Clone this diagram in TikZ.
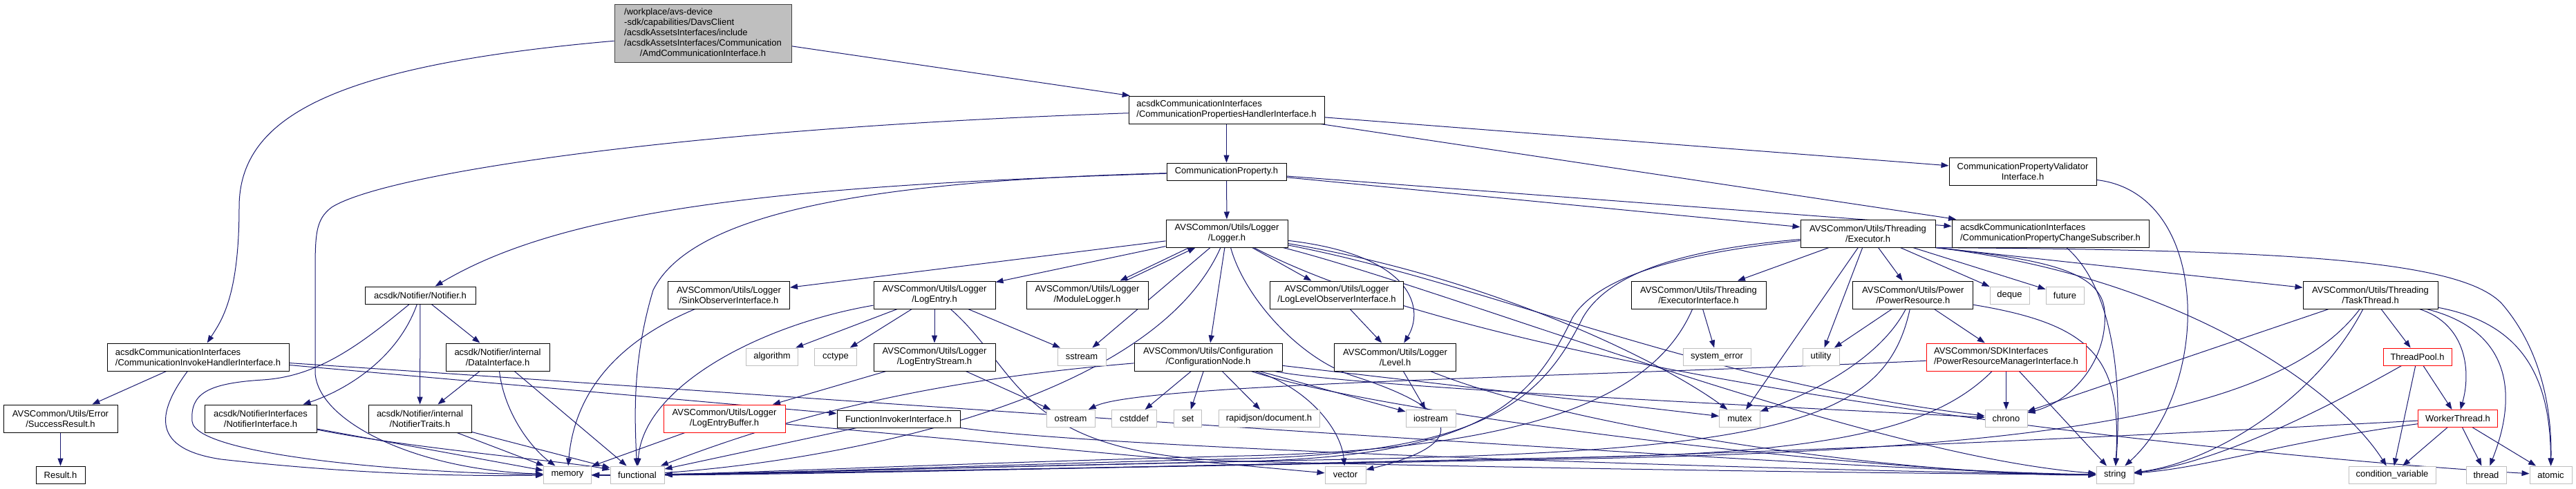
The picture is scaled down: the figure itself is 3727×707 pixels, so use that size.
\documentclass[tikz,border=0pt]{standalone}
\usepackage{fontspec}
\setmainfont{Liberation Sans}
\usetikzlibrary{arrows.meta,backgrounds}
\definecolor{edgec}{HTML}{191970}
\definecolor{extc}{HTML}{BFBFBF}
\definecolor{rootfill}{HTML}{BFBFBF}
\definecolor{rootdraw}{HTML}{404040}
\definecolor{trunc}{HTML}{FF0000}
\tikzset{
  base/.style={rectangle, inner sep=0pt, line width=1pt, fill=white, font=\fontsize{13}{15}\selectfont, align=center, text=black},
  nb/.style={base, draw=black},
  gb/.style={base, draw=extc},
  rb/.style={base, draw=trunc},
  h1/.style={minimum height=25pt},
  h2/.style={minimum height=40pt},
  e/.style={draw=edgec, line width=1pt, -{Triangle[length=11pt,width=8pt]}},
}
\begin{document}
\begin{tikzpicture}[x=1pt,y=-1pt]
\useasboundingbox (0,0) rectangle (3727,707);

% ---------- nodes ----------
\node[base, draw=rootdraw, fill=rootfill, minimum width=256pt, minimum height=84pt] (root) at (1017,48)
  {\begin{tabular}{@{}l@{}}/workplace/avs-device\\-sdk/capabilities/DavsClient\\/acsdkAssetsInterfaces/include\\/acsdkAssetsInterfaces/Communication\\\multicolumn{1}{@{}c@{}}{/AmdCommunicationInterface.h}\end{tabular}};
\node[nb,h2,minimum width=283pt,align=left] (cphi) at (1774.5,159) {acsdkCommunicationInterfaces\\/CommunicationPropertiesHandlerInterface.h};
\node[nb,h1,minimum width=173pt] (cp) at (1774.5,248.5) {CommunicationProperty.h};
\node[nb,h2,minimum width=176pt] (logger) at (1775,338) {AVSCommon/Utils/Logger\\/Logger.h};
\node[nb,h2,minimum width=213pt] (cpvi) at (2926.5,248) {CommunicationPropertyValidator\\Interface.h};
\node[nb,h2,minimum width=195pt] (exec) at (2702.5,338) {AVSCommon/Utils/Threading\\/Executor.h};
\node[nb,h2,minimum width=285pt,align=left] (cpcs) at (2966.5,338) {acsdkCommunicationInterfaces\\/CommunicationPropertyChangeSubscriber.h};
\node[nb,h2,minimum width=263pt,align=left] (cihi) at (286.5,517) {acsdkCommunicationInterfaces\\/CommunicationInvokeHandlerInterface.h};
\node[nb,h1,minimum width=160pt] (notifier) at (608,427.5) {acsdk/Notifier/Notifier.h};
\node[nb,h2,minimum width=165pt] (succ) at (87.5,606) {AVSCommon/Utils/Error\\/SuccessResult.h};
\node[nb,h1,minimum width=71pt] (result) at (87.5,687.5) {Result.h};
\node[nb,h2,minimum width=162pt] (notifint) at (377,606) {acsdk/NotifierInterfaces\\/NotifierInterface.h};
\node[nb,h2,minimum width=149pt] (notiftraits) at (607.5,606) {acsdk/Notifier/internal\\/NotifierTraits.h};
\node[nb,h2,minimum width=150pt] (dataint) at (720,517) {acsdk/Notifier/internal\\/DataInterface.h};
\node[gb,h1,minimum width=69pt] (memory) at (821,687.5) {memory};
\node[gb,h1,minimum width=78pt] (functional) at (922,687.5) {functional};
\node[nb,h2,minimum width=176pt] (sink) at (1054.5,427) {AVSCommon/Utils/Logger\\/SinkObserverInterface.h};
\node[gb,h1,minimum width=75pt] (algorithm) at (1117,516.5) {algorithm};
\node[gb,h1,minimum width=61pt] (cctype) at (1209,516.5) {cctype};
\node[rb,h2,minimum width=176pt] (leb) at (1048,606) {AVSCommon/Utils/Logger\\/LogEntryBuffer.h};
\node[nb,h1,minimum width=178pt] (funcinv) at (1300,606.5) {FunctionInvokerInterface.h};
\node[nb,h2,minimum width=176pt] (logentry) at (1352,427) {AVSCommon/Utils/Logger\\/LogEntry.h};
\node[nb,h2,minimum width=176pt] (modlog) at (1573,427) {AVSCommon/Utils/Logger\\/ModuleLogger.h};
\node[nb,h2,minimum width=193pt] (loglevobs) at (1934,427) {AVSCommon/Utils/Logger\\/LogLevelObserverInterface.h};
\node[nb,h2,minimum width=176pt] (les) at (1352,517) {AVSCommon/Utils/Logger\\/LogEntryStream.h};
\node[gb,h1,minimum width=70pt] (sstream) at (1565,516.5) {sstream};
\node[nb,h2,minimum width=214pt] (confnode) at (1748,517) {AVSCommon/Utils/Configuration\\/ConfigurationNode.h};
\node[gb,h1,minimum width=70pt] (ostream) at (1549,606) {ostream};
\node[gb,h1,minimum width=65pt] (cstddef) at (1641,606) {cstddef};
\node[gb,h1,minimum width=40pt] (setn) at (1718.5,606) {set};
\node[gb,h1,minimum width=146pt] (rapid) at (1836,606) {rapidjson/document.h};
\node[nb,h2,minimum width=176pt] (level) at (2018.5,517) {AVSCommon/Utils/Logger\\/Level.h};
\node[gb,h1,minimum width=72pt] (iostream) at (2070,606) {iostream};
\node[gb,h1,minimum width=59pt] (vector) at (1946.5,687.5) {vector};
\node[nb,h2,minimum width=195pt] (execint) at (2457.5,427) {AVSCommon/Utils/Threading\\/ExecutorInterface.h};
\node[gb,h1,minimum width=98pt] (syserr) at (2484,516.5) {system\_error};
\node[gb,h1,minimum width=59pt] (mutex) at (2517,606) {mutex};
\node[gb,h1,minimum width=53pt] (utility) at (2634.5,516.5) {utility};
\node[nb,h2,minimum width=174pt] (powres) at (2767.75,427) {AVSCommon/Utils/Power\\/PowerResource.h};
\node[gb,h1,minimum width=57pt] (deque) at (2907.5,427.5) {deque};
\node[gb,h1,minimum width=55pt] (future) at (2987.5,427.5) {future};
\node[rb,h2,minimum width=231pt,align=left] (prmi) at (2902.5,517) {AVSCommon/SDKInterfaces\\/PowerResourceManagerInterface.h};
\node[gb,h1,minimum width=61pt] (chrono) at (2902.5,606) {chrono};
\node[gb,h1,minimum width=54pt] (string) at (3060,687.5) {string};
\node[nb,h2,minimum width=195pt] (taskthread) at (3429.5,427) {AVSCommon/Utils/Threading\\/TaskThread.h};
\node[rb,h1,minimum width=99pt] (threadpool) at (3497.5,516.5) {ThreadPool.h};
\node[rb,h1,minimum width=115pt] (workerthread) at (3556,606) {WorkerThread.h};
\node[gb,h1,minimum width=126pt] (condvar) at (3461,687.5) {condition\_variable};
\node[gb,h1,minimum width=58pt] (thread) at (3597,687.5) {thread};
\node[gb,h1,minimum width=61pt] (atomic) at (3690.5,687.5) {atomic};

% ---------- edges (behind the nodes) ----------
\begin{pgfonlayer}{background}
\fill[white] (0,0) rectangle (3727,707);
% root
\draw[e] (root) -- (cphi);
\draw[e] (root) .. controls (480,95) and (346,170) .. (346,300) .. controls (346,430) and (320,465) .. (cihi);
% CPHI
\draw[e] (cphi) -- (cp);
\draw[e] (cphi) -- (cpvi);
\draw[e] (cphi) -- (cpcs);
\draw[e] (cphi) .. controls (1000,185) and (560,250) .. (480,300) .. controls (456,318) and (456,340) .. (456,400) -- (456,540) .. controls (460,610) and (600,680) .. (memory);
% CommunicationProperty
\draw[e] (cp) -- (logger);
\draw[e] (cp) .. controls (1150,268) and (820,300) .. (notifier);
\draw[e] (cp) .. controls (1250,262) and (1000,310) .. (945,420) .. controls (915,520) and (918,600) .. (functional);
\draw[e] (cp) -- (exec);
\draw[e] (cp) -- (cpcs);
% Logger
\draw[e] (logger) -- (sink);
\draw[e] (logger) -- (logentry);
\draw[e] ([xshift=34pt]logger.south west) -- ([xshift=-41pt]modlog.north east);
\draw[e] ([xshift=-33pt]modlog.north east) -- ([xshift=43pt]logger.south west);
\draw[e] (logger) -- (sstream);
\draw[e] (logger) -- (confnode);
\draw[e] (logger) -- (loglevobs);
\draw[e] (logger) .. controls (2050,370) and (2060,450) .. (level);
\draw[e] (logger) .. controls (1800,430) and (1880,520) .. (1960,545) .. controls (2100,590) and (2140,640) .. (vector);
\draw[e] (logger) .. controls (2150,400) and (2400,520) .. (mutex);
\draw[e] (logger) .. controls (2150,410) and (2450,550) .. (chrono);
\draw[e] (logger) .. controls (2100,420) and (2700,660) .. (string);
\draw[e] (logger) .. controls (2200,560) and (3300,665) .. (atomic);
\draw[e] (logger) .. controls (1650,620) and (1050,690) .. (memory);
\draw[e] (loglevobs) -- (level);
% LogEntry
\draw[e] (logentry) .. controls (1100,470) and (930,560) .. (functional);
\draw[e] (logentry) -- (algorithm);
\draw[e] (logentry) -- (cctype);
\draw[e] (logentry) -- (les);
\draw[e] (logentry) -- (sstream);
\draw[e] (logentry) .. controls (1480,540) and (1470,660) .. (1800,668) .. controls (2300,680) and (2800,686) .. (string);
\draw[e] (les) -- (leb);
\draw[e] (les) -- (ostream);
\draw[e] (leb) -- (memory);
\draw[e] (leb) -- (vector);
\draw[e] (sink) .. controls (880,500) and (830,580) .. (memory);
% ConfigurationNode
\draw[e] (confnode) -- (cstddef);
\draw[e] (confnode) -- (setn);
\draw[e] (confnode) -- (rapid);
\draw[e] (confnode) .. controls (1350,550) and (1150,600) .. (functional);
\draw[e] (confnode) -- (iostream);
\draw[e] (confnode) .. controls (1890,560) and (1940,620) .. (vector);
\draw[e] (confnode) -- (mutex);
\draw[e] (confnode) .. controls (1950,560) and (2600,590) .. (chrono);
\draw[e] (confnode) .. controls (2000,600) and (2700,685) .. (string);
% Level
\draw[e] (level) -- (iostream);
\draw[e] (level) .. controls (2300,630) and (2800,690) .. (string);
% CIHI
\draw[e] (cihi) -- (succ);
\draw[e] (cihi) .. controls (225,600) and (220,650) .. (320,665) .. controls (500,685) and (650,690) .. (memory);
\draw[e] (cihi) -- (funcinv);
\draw[e] (cihi) .. controls (1100,570) and (2600,680) .. (string);
\draw[e] (succ) -- (result);
% Notifier
\draw[e] (notifier) .. controls (575,520) and (500,565) .. (notifint);
\draw[e] (notifier) -- (notiftraits);
\draw[e] (notifier) -- (dataint);
\draw[e] (notifier) .. controls (520,500) and (460,545) .. (380,550) .. controls (300,555) and (275,570) .. (278,610) .. controls (282,660) and (600,685) .. (memory);
\draw[e] (dataint) -- (notiftraits);
\draw[e] (dataint) .. controls (730,600) and (770,650) .. (memory);
\draw[e] (dataint) -- (functional);
\draw[e] (notiftraits) -- (memory);
\draw[e] (notiftraits) -- (functional);
\draw[e] (notifint) -- (memory);
\draw[e] (notifint) .. controls (600,650) and (820,668) .. (functional);
% FunctionInvoker
\draw[e] (funcinv) -- (functional);
\draw[e] (funcinv) .. controls (1600,650) and (2600,682) .. (string);
% Executor
\draw[e] (exec) -- (execint);
\draw[e] (exec) -- (mutex);
\draw[e] (exec) -- (utility);
\draw[e] (exec) -- (powres);
\draw[e] (exec) -- (deque);
\draw[e] (exec) -- (future);
\draw[e] (exec.south east) .. controls (2950,375) and (3040,390) .. (3045,450) .. controls (3050,520) and (3000,580) .. (chrono);
\draw[e] (exec.south east) .. controls (3150,400) and (3380,560) .. (condvar);
\draw[e] (exec.south east) -- (taskthread);
\draw[e] (exec.south east) .. controls (3300,362) and (3560,375) .. (3620,440) .. controls (3680,510) and (3692,600) .. (atomic);
\draw[e] (exec) .. controls (2450,360) and (2330,390) .. (2290,460) .. controls (2230,580) and (2150,655) .. (1800,664) .. controls (1400,674) and (1100,686) .. (functional);
\draw[e] (exec) .. controls (2450,365) and (2315,395) .. (2275,460) .. controls (2215,585) and (2140,660) .. (1800,668) .. controls (1300,678) and (1000,690) .. (memory);
\draw[e] (execint) -- (syserr);
\draw[e] (execint) .. controls (2400,560) and (2250,650) .. (1800,660) .. controls (1400,670) and (1100,684) .. (functional);
% PowerResource
\draw[e] (powres) -- (utility);
\draw[e] (powres) .. controls (2720,520) and (2620,570) .. (mutex);
\draw[e] (powres) -- (prmi);
\draw[e] (powres) .. controls (3030,470) and (3070,520) .. (string);
\draw[e] (powres) .. controls (2730,600) and (2600,650) .. (2000,664) .. controls (1500,674) and (1000,688) .. (memory);
\draw[e] (prmi) .. controls (2300,545) and (1650,555) .. (ostream);
\draw[e] (prmi) -- (chrono);
\draw[e] (prmi) -- (string);
\draw[e] (prmi) .. controls (2800,620) and (2650,655) .. (2300,662) .. controls (1800,672) and (1100,690) .. (memory);
% CPCS / CPVI
\draw[e] (cpcs) .. controls (3060,420) and (3070,560) .. (string);
\draw[e] (cpvi) .. controls (3200,280) and (3200,560) .. (string);
% TaskThread
\draw[e] (taskthread) -- (threadpool);
\draw[e] (taskthread.south east) ++(-27pt,0pt) .. controls (3570,470) and (3575,540) .. (workerthread);
\draw[e] (taskthread) .. controls (3640,480) and (3640,580) .. (thread);
\draw[e] (taskthread) .. controls (3660,470) and (3690,560) .. (atomic);
\draw[e] (taskthread) -- (chrono);
\draw[e] (taskthread) .. controls (3300,600) and (2950,650) .. (2300,664) .. controls (1800,674) and (1100,686) .. (functional);
\draw[e] (taskthread) .. controls (3350,580) and (3200,670) .. (string);
% ThreadPool / WorkerThread
\draw[e] (threadpool) -- (workerthread);
\draw[e] (threadpool) -- (condvar);
\draw[e] (threadpool) .. controls (3350,600) and (3200,672) .. (string);
\draw[e] (workerthread) -- (condvar);
\draw[e] (workerthread) -- (thread);
\draw[e] (workerthread) -- (atomic);
\draw[e] (workerthread) .. controls (3300,640) and (3200,676) .. (string);
\draw[e] (workerthread) .. controls (3200,625) and (2700,650) .. (2300,662) .. controls (1800,674) and (1100,686) .. (functional);
\end{pgfonlayer}
\end{tikzpicture}
\end{document}
